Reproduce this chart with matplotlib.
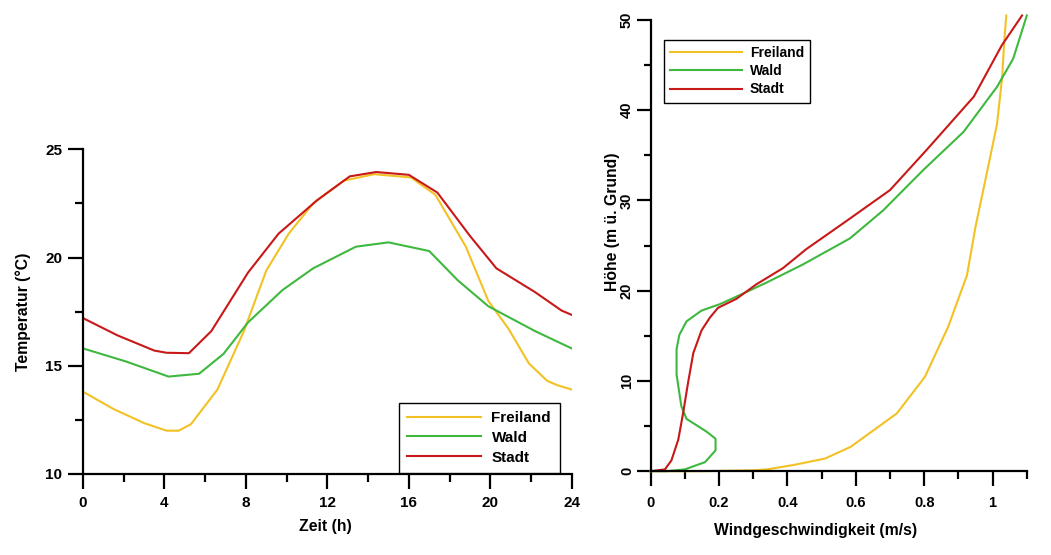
import matplotlib
matplotlib.use("Agg")
import matplotlib.pyplot as plt
from matplotlib.ticker import MultipleLocator, FuncFormatter

plt.rcParams['font.family'] = ['Liberation Sans', 'DejaVu Sans']
plt.rcParams['font.weight'] = 'bold'

# Tagesgang der Temperatur
zeit_freiland = [0, 1.5, 3.0, 4.1, 4.7, 5.3, 6.6, 7.9, 9.0, 10.1, 11.3, 12.8, 14.3, 16.1, 17.3, 18.8, 19.9, 20.9, 21.9, 22.8, 23.3, 24]
temp_freiland = [13.8, 13.0, 12.35, 12.0, 12.0, 12.3, 13.9, 16.6, 19.4, 21.1, 22.5, 23.55, 23.85, 23.7, 22.9, 20.5, 18.0, 16.7, 15.1, 14.3, 14.1, 13.9]

zeit_wald = [0, 2.1, 4.2, 5.7, 6.9, 8.1, 9.8, 11.3, 13.4, 15.0, 17.0, 18.4, 19.9, 22.2, 24]
temp_wald = [15.8, 15.2, 14.5, 14.63, 15.55, 17.0, 18.5, 19.5, 20.5, 20.7, 20.3, 18.95, 17.75, 16.6, 15.8]

zeit_stadt = [0, 1.7, 3.5, 4.1, 5.2, 6.3, 8.1, 9.6, 11.5, 13.1, 14.4, 16.0, 17.4, 19.0, 20.3, 22.2, 23.5, 24]
temp_stadt = [17.2, 16.4, 15.7, 15.6, 15.58, 16.6, 19.3, 21.1, 22.65, 23.75, 23.95, 23.82, 23.0, 21.0, 19.5, 18.4, 17.55, 17.35]

# Windprofil
wind_freiland = [0.0, 0.15, 0.3, 0.34, 0.42, 0.51, 0.585, 0.72, 0.802, 0.87, 0.925, 0.95, 0.979, 1.013, 1.028, 1.034, 1.04]
hoehe_freiland = [0.0, 0.0, 0.1, 0.2, 0.7, 1.4, 2.7, 6.4, 10.45, 16.0, 21.7, 27.1, 32.3, 38.5, 43.7, 47.7, 50.5]

wind_wald = [0.0, 0.047, 0.1, 0.159, 0.19, 0.19, 0.163, 0.105, 0.09, 0.076, 0.076, 0.084, 0.105, 0.149, 0.202, 0.26, 0.339, 0.445, 0.583, 0.68, 0.798, 0.915, 1.013, 1.06, 1.1]
hoehe_wald = [0.0, 0.0, 0.2, 1.0, 2.3, 3.6, 4.4, 5.8, 7.2, 10.7, 13.5, 15.1, 16.6, 17.8, 18.5, 19.5, 20.9, 22.9, 25.8, 28.9, 33.4, 37.6, 42.6, 45.7, 50.5]

wind_stadt = [0.0, 0.042, 0.061, 0.081, 0.095, 0.11, 0.125, 0.149, 0.173, 0.197, 0.251, 0.309, 0.387, 0.455, 0.583, 0.70, 0.807, 0.945, 1.027, 1.086]
hoehe_stadt = [0.0, 0.2, 1.2, 3.5, 6.4, 9.9, 13.1, 15.6, 17.0, 18.1, 19.1, 20.7, 22.5, 24.6, 28.0, 31.15, 35.6, 41.5, 47.2, 50.5]

namen = ['Freiland', 'Wald', 'Stadt']
farben = ['#F2C224', '#3FB83F', '#C81818']


def achse_stil(ax, groesse):
    ax.spines['top'].set_visible(False)
    ax.spines['right'].set_visible(False)
    ax.spines['left'].set_linewidth(1.6)
    ax.spines['bottom'].set_linewidth(1.6)
    ax.tick_params(which='both', direction='out', width=1.6, labelsize=groesse)


fig = plt.figure(figsize=(10.51, 5.55), dpi=100)

# linkes Diagramm
ax1 = fig.add_axes([0.079, 0.146, 0.465, 0.585])
ax1.plot(zeit_freiland, temp_freiland, color=farben[0], lw=1.5, label=namen[0])
ax1.plot(zeit_wald, temp_wald, color=farben[1], lw=1.5, label=namen[1])
ax1.plot(zeit_stadt, temp_stadt, color=farben[2], lw=1.5, label=namen[2])
ax1.set_xlim(0, 24)
ax1.set_ylim(10, 25)
ax1.xaxis.set_major_locator(MultipleLocator(4))
ax1.xaxis.set_minor_locator(MultipleLocator(2))
ax1.yaxis.set_major_locator(MultipleLocator(5))
ax1.yaxis.set_minor_locator(MultipleLocator(2.5))
achse_stil(ax1, 11)
ax1.tick_params(axis='x', which='major', length=11, pad=5)
ax1.tick_params(axis='x', which='minor', length=6)
ax1.tick_params(axis='y', which='major', length=11, pad=4)
ax1.tick_params(axis='y', which='minor', length=6)
ax1.set_xlabel('Zeit (h)', fontsize=11.3, fontweight='bold')
ax1.set_ylabel('Temperatur (°C)', fontsize=11.3, fontweight='bold')
ax1.xaxis.set_label_coords(0.495, -0.138)
ax1.yaxis.set_label_coords(-0.106, 0.5)
leg1 = ax1.legend(loc='lower right', bbox_to_anchor=(0.975, 0.003), borderaxespad=0,
                  fancybox=False, edgecolor='black', framealpha=1, fontsize=11,
                  handlelength=4.8, handletextpad=0.7, labelspacing=0.38,
                  borderpad=0.55)
leg1.get_frame().set_linewidth(1.0)

# rechtes Diagramm
ax2 = fig.add_axes([0.619, 0.151, 0.358, 0.813])
ax2.plot(wind_freiland, hoehe_freiland, color=farben[0], lw=1.5, label=namen[0], clip_on=False)
ax2.plot(wind_wald, hoehe_wald, color=farben[1], lw=1.5, label=namen[1], clip_on=False)
ax2.plot(wind_stadt, hoehe_stadt, color=farben[2], lw=1.5, label=namen[2], clip_on=False)
ax2.set_xlim(0, 1.1)
ax2.set_ylim(0, 50)
ax2.xaxis.set_major_locator(MultipleLocator(0.2))
ax2.xaxis.set_minor_locator(MultipleLocator(0.1))
ax2.yaxis.set_major_locator(MultipleLocator(10))
ax2.yaxis.set_minor_locator(MultipleLocator(5))
ax2.xaxis.set_major_formatter(FuncFormatter(lambda v, p: '%g' % round(v, 2)))
achse_stil(ax2, 10.5)
ax2.tick_params(axis='x', which='major', length=11, pad=7)
ax2.tick_params(axis='x', which='minor', length=6)
ax2.tick_params(axis='y', which='major', length=10, pad=2)
ax2.tick_params(axis='y', which='minor', length=5)
for t in ax2.get_yticklabels():
    t.set_rotation(90)
    t.set_va('center')
ax2.set_xlabel('Windgeschwindigkeit (m/s)', fontsize=11.3, fontweight='bold')
ax2.set_ylabel('Höhe (m ü. Grund)', fontsize=11.3, fontweight='bold')
ax2.xaxis.set_label_coords(0.439, -0.115)
ax2.yaxis.set_label_coords(-0.08, 0.552)
leg2 = ax2.legend(loc='upper left', bbox_to_anchor=(0.035, 0.956), borderaxespad=0,
                  fancybox=False, edgecolor='black', framealpha=1, fontsize=10,
                  handlelength=5.2, handletextpad=0.55, labelspacing=0.3,
                  borderpad=0.45)
leg2.get_frame().set_linewidth(1.0)

fig.savefig('out.png', dpi=100)
